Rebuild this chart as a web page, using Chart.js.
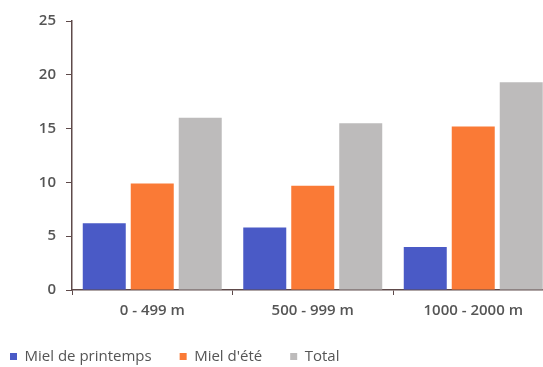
<!DOCTYPE html>
<html>
<head>
<meta charset="utf-8">
<script src="https://cdn.jsdelivr.net/npm/chart.js@4/dist/chart.umd.min.js"></script>
<style>
  html, body { margin: 0; padding: 0; background: #fff; overflow: hidden; }
  #wrap { position: relative; width: 556px; height: 367px; }
</style>
</head>
<body>
<div id="wrap"><canvas id="c" width="556" height="367"></canvas></div>
<script>
// Altitude bands
const categories = ['0 - 499 m', '500 - 999 m', '1000 - 2000 m'];
// Honey yield per band
const mielPrintemps = [6.2, 5.8, 4.0];
const mielEte = [9.9, 9.7, 15.2];
const total = [16.0, 15.5, 19.3];
const seriesNames = ['Miel de printemps', "Miel d'été", 'Total'];
const yTicks = [0, 5, 10, 15, 20, 25];

const colors = ['#4a5ac6', '#fa7a36', '#bdbbbb'];
const axisColor = '#5e4a4a';
const textColor = '#555555';
const font = 'Open Sans';
const legendGap = 28;

// Keep the legend row compact and pulled toward the left edge
const legendShift = {
  id: 'legendShift',
  beforeLayout(chart) {
    const lg = chart.legend;
    if (lg && !lg._compactFit) {
      const fit = lg.fit;
      lg.fit = function () {
        fit.call(this);
        this.height -= 13;
      };
      lg._compactFit = true;
    }
  },
  afterLayout(chart) {
    const lg = chart.legend;
    const dx = 10 - legendGap;
    const dy = -6;
    lg.left += dx;
    lg.right += dx;
    lg.top += dy;
    lg.bottom = chart.height;
    lg.height = lg.bottom - lg.top;
  }
};

new Chart(document.getElementById('c'), {
  type: 'bar',
  data: {
    labels: categories,
    datasets: [mielPrintemps, mielEte, total].map((d, i) => ({
      label: seriesNames[i],
      data: d,
      backgroundColor: colors[i],
      borderWidth: 0,
      categoryPercentage: 0.897,
      barPercentage: 0.896
    }))
  },
  plugins: [legendShift],
  options: {
    responsive: false,
    animation: false,
    layout: { padding: { top: 21, right: 2.5, left: 0, bottom: 0 } },
    plugins: {
      tooltip: { enabled: false },
      legend: {
        position: 'bottom',
        align: 'start',
        labels: {
          boxWidth: 7,
          boxHeight: 7,
          padding: legendGap,
          color: textColor,
          font: { family: font, size: 15 }
        }
      }
    },
    scales: {
      x: {
        grid: { display: true, drawOnChartArea: false, drawTicks: true, tickLength: 5, color: axisColor, offset: true },
        border: { display: true, color: axisColor, width: 1.5 },
        ticks: { color: textColor, padding: 7, font: { family: font, size: 15, weight: '600' } }
      },
      y: {
        min: 0,
        max: 25,
        afterBuildTicks: (s) => { s.ticks = yTicks.map(v => ({ value: v })); },
        afterFit: (s) => { s.width = 72; },
        grid: { display: true, drawOnChartArea: false, drawTicks: true, tickLength: 6, color: axisColor },
        border: { display: true, color: axisColor, width: 1.5 },
        ticks: { color: textColor, padding: 10, font: { family: font, size: 15, weight: '600' } }
      }
    }
  }
});
</script>
</body>
</html>
